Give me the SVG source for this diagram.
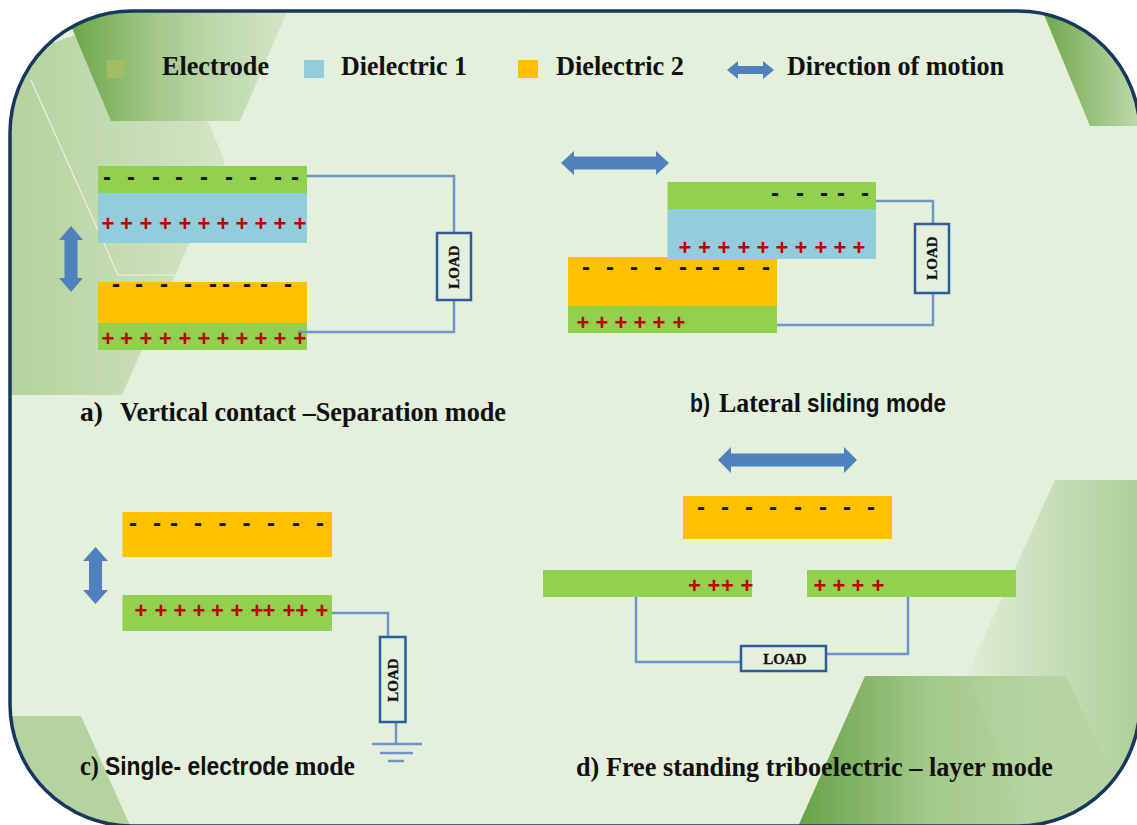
<svg xmlns="http://www.w3.org/2000/svg" width="1137" height="825" viewBox="0 0 1137 825">
<style>
.el{fill:#92d050}.d1{fill:#92cddc}.d2{fill:#ffc000}
.ar{fill:#4f81bd}
.w{fill:none;stroke:#6d95c8;stroke-width:2.500}
.lb{fill:#e4efdc;stroke:#2f5c98;stroke-width:2.500}
.lt{font:bold 15px "Liberation Serif",serif;fill:#111;text-anchor:middle;stroke:#111;stroke-width:.3}
.t{font:bold 27px "Liberation Serif",serif;fill:#111}
.s{font:bold 25px "Liberation Sans",sans-serif;fill:#111}
.m{font:bold 24px "Liberation Sans",sans-serif;fill:#111;text-anchor:middle}
.p{font:bold 22px "Liberation Sans",sans-serif;fill:#c00000;text-anchor:middle}
</style>
<defs>
<clipPath id="fr"><rect x="10" y="11" width="1130" height="815" rx="122" ry="122"/></clipPath>
<linearGradient id="g1" gradientUnits="userSpaceOnUse" x1="75" y1="0" x2="287" y2="0"><stop offset="0" stop-color="#6fa84c"/><stop offset=".4" stop-color="#a5ca8c"/><stop offset=".62" stop-color="#b9d6a5"/><stop offset="1" stop-color="#d4e6c6"/></linearGradient>
<linearGradient id="g2" gradientUnits="userSpaceOnUse" x1="10" y1="0" x2="225" y2="0"><stop offset="0" stop-color="#b5d29e"/><stop offset="1" stop-color="#d3e5c5"/></linearGradient>
<linearGradient id="g3" gradientUnits="userSpaceOnUse" x1="1043" y1="0" x2="1137" y2="0"><stop offset="0" stop-color="#6fa84c"/><stop offset="1" stop-color="#bcd8a8"/></linearGradient>
<linearGradient id="g4" gradientUnits="userSpaceOnUse" x1="965" y1="0" x2="1137" y2="0"><stop offset="0" stop-color="#e0edd6"/><stop offset="1" stop-color="#aed09a"/></linearGradient>
<linearGradient id="g5" gradientUnits="userSpaceOnUse" x1="800" y1="0" x2="1060" y2="0"><stop offset="0" stop-color="#68a347"/><stop offset=".5" stop-color="#a3c98b"/><stop offset="1" stop-color="#b8d6a3"/></linearGradient>
</defs>
<g id="background">
<rect width="1137" height="825" fill="#fff"/>
<g clip-path="url(#fr)">
<rect x="0" y="0" width="1137" height="825" fill="#e4efdc"/>
<polygon points="5,60 75,35 209,123 225,163 122,395 5,395" fill="url(#g2)"/>
<polygon points="72,28 120,5 290,5 240,121 111,121" fill="url(#g1)"/>
<polygon points="1040,5 1090,126 1140,126 1140,5" fill="url(#g3)"/>
<polygon points="1055,480 1140,480 1140,825 960,825 960,690" fill="url(#g4)"/>
<polygon points="865,676 1066,676 1140,840 792,840" fill="url(#g5)"/>
<polygon points="971,680 1066,676 1140,840 1030,840" fill="#b5d4a0" opacity=".55"/>
<polygon points="5,716 81,716 132,830 5,830" fill="#b5d3a0"/>
<polyline points="31,80 118,275 407,275 525,13" fill="none" stroke="#e9f2e1" stroke-width="1.200"/>
<line x1="836" y1="420" x2="662" y2="825" stroke="#e9f2e1" stroke-width="1.200"/>
</g>
<rect x="10" y="11" width="1130" height="815" rx="122" ry="122" fill="none" stroke="#17375e" stroke-width="3.500"/>
</g>
<g id="connectors">
<polyline class="w" points="307,176 454,176 454,233"/>
<polyline class="w" points="454,300 454,332 298,332"/>
<polyline class="w" points="876,201 933,201 933,224"/>
<polyline class="w" points="933,293 933,325 777,325"/>
<polyline class="w" points="332,613 388,613 388,637"/>
<polyline class="w" points="396,722 396,744"/>
<path class="w" d="M372 744H422M380 753H413M388 761H404"/>
<polyline class="w" points="636,597 636,662 741,662"/>
<polyline class="w" points="908,597 908,654 826,654"/>
</g>
<g id="legend">
<rect x="107" y="60" width="18" height="18" fill="#a3bd62"/>
<text class="t" x="162" y="75" textLength="107" lengthAdjust="spacingAndGlyphs">Electrode</text>
<rect class="d1" x="304" y="60" width="20" height="18"/>
<text class="t" x="341" y="75" textLength="126" lengthAdjust="spacingAndGlyphs">Dielectric 1</text>
<rect class="d2" x="518" y="60" width="20" height="18"/>
<text class="t" x="556" y="75" textLength="128" lengthAdjust="spacingAndGlyphs">Dielectric 2</text>
<polygon class="ar" points="727,70 738,61 738,66 763,66 763,61 774,70 763,79 763,74 738,74 738,79"/>
<text class="t" x="787" y="75" textLength="217" lengthAdjust="spacingAndGlyphs">Direction of motion</text>
</g>
<g id="mode-a">
<polygon class="ar" points="71,226 83,240 77.500,240 77.500,278 83,278 71,292 59,278 64.500,278 64.500,240 59,240"/>
<rect class="el" x="98" y="166" width="209" height="27"/>
<rect class="d1" x="98" y="193" width="209" height="50"/>
<rect class="d2" x="98" y="282" width="209" height="41"/>
<rect class="el" x="98" y="323" width="209" height="27"/>
<polyline class="w" points="298,332 307,332"/>
<text class="m" x="107 131 156 179 204 229 253 278 295" y="184.500">---------</text>
<text class="p" x="108 126.500 146 165.500 185 204 223 242 261 280 300" y="231">+++++++++++</text>
<text class="m" x="116 139 164 188 213 226 247 264 288" y="291.500">---------</text>
<text class="p" x="108 126.500 146 165.500 185 204 223 242 261 280 300" y="346">+++++++++++</text>
<rect class="lb" x="437" y="233" width="34" height="67"/>
<text class="lt" transform="translate(459 267) rotate(-90)">LOAD</text>
<text class="t" x="80" y="421" textLength="23" lengthAdjust="spacingAndGlyphs">a)</text>
<text class="t" x="120" y="421" textLength="386" lengthAdjust="spacingAndGlyphs">Vertical contact –Separation mode</text>
</g>
<g id="mode-b">
<polygon class="ar" points="561,163 574,151 574,156.500 656,156.500 656,151 669,163 656,175 656,169.500 574,169.500 574,175"/>
<rect class="d2" x="568" y="257" width="209" height="49"/>
<rect class="el" x="568" y="306" width="209" height="27"/>
<rect class="el" x="667.500" y="182" width="208.500" height="27"/>
<rect class="d1" x="667.500" y="209" width="208.500" height="50"/>
<text class="m" x="775 800 824 841 865" y="200.500">-----</text>
<text class="p" x="685 704.500 724 744 763 782 801 821 840 859" y="255">++++++++++</text>
<text class="m" x="586 610 634 658 683 699 716 741 766" y="274.500">---------</text>
<text class="p" x="583 602 621 640 659 679" y="330">++++++</text>
<rect class="lb" x="915" y="224" width="34" height="69"/>
<text class="lt" transform="translate(937 258) rotate(-90)">LOAD</text>
<text class="s" x="690" y="412" textLength="20" lengthAdjust="spacingAndGlyphs">b)</text>
<text class="t" x="719" y="412" textLength="82" lengthAdjust="spacingAndGlyphs">Lateral</text>
<text class="s" x="807" y="412" textLength="139" lengthAdjust="spacingAndGlyphs">sliding mode</text>
</g>
<g id="mode-c">
<polygon class="ar" points="95.500,547 108,561 102,561 102,590 108,590 95.500,604 83,590 89,590 89,561 83,561"/>
<rect class="d2" x="122.500" y="512" width="209.500" height="45"/>
<rect class="el" x="122.500" y="595" width="209.500" height="36"/>
<text class="m" x="133 157 174 198 222.500 246.500 271 296 320" y="530.500">---------</text>
<text class="p" x="141 161 180 199 217.500 237 257 269 289 302 322" y="618">+++++++++++</text>
<rect class="lb" x="380" y="637" width="25.500" height="85"/>
<text class="lt" transform="translate(397.500 680) rotate(-90)">LOAD</text>
<text class="t" x="80" y="775" textLength="19" lengthAdjust="spacingAndGlyphs">c)</text>
<text class="s" x="105" y="775" textLength="184" lengthAdjust="spacingAndGlyphs">Single- electrode</text>
<text class="t" x="295" y="775" textLength="60" lengthAdjust="spacingAndGlyphs">mode</text>
</g>
<g id="mode-d">
<polygon class="ar" points="718,460 731,447 731,453.500 844,453.500 844,447 857,460 844,473 844,466.500 731,466.500 731,473"/>
<rect class="d2" x="683" y="496" width="209" height="43"/>
<rect class="el" x="543" y="570" width="209" height="27"/>
<rect class="el" x="807" y="570" width="209" height="27"/>
<text class="m" x="701 725 749 773 798 823 847 871" y="514.500">--------</text>
<text class="p" x="694.500 714 727.500 747" y="593">++++</text>
<text class="p" x="820 839 858 878" y="593">++++</text>
<rect class="lb" x="741" y="646" width="85" height="25"/>
<text class="lt" x="785" y="664">LOAD</text>
<text class="t" x="576" y="776" textLength="477" lengthAdjust="spacingAndGlyphs">d) Free standing triboelectric – layer mode</text>
</g>
</svg>
